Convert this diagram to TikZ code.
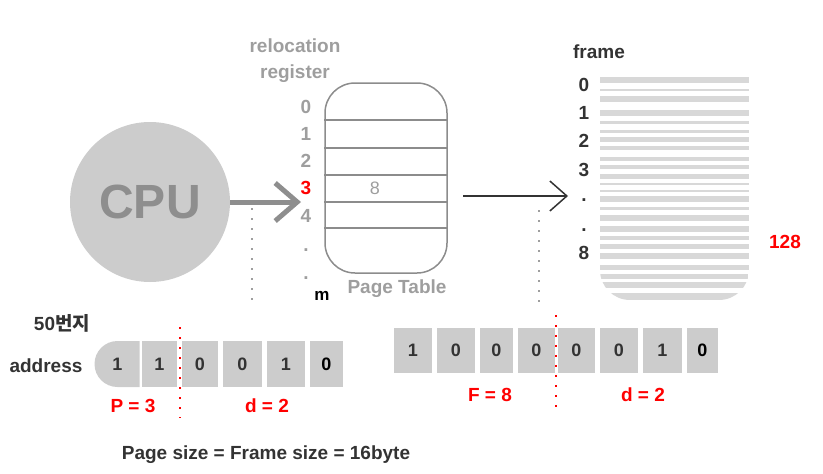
\documentclass[tikz,border=0pt]{standalone}
\usepackage{fontspec}
\setmainfont{Liberation Sans}
\newfontfamily\krfont{Noto Sans CJK KR}
\usetikzlibrary{arrows.meta}
\usetikzlibrary{shapes.misc}

\definecolor{boxgray}{HTML}{CCCCCC}
\definecolor{txtgray}{HTML}{9E9E9E}
\definecolor{cpugray}{HTML}{8E8E8E}
\definecolor{linegray}{HTML}{8C8C8C}
\definecolor{darktxt}{HTML}{333333}
\definecolor{stripegray}{HTML}{D8D8D8}

\tikzset{
  lbl/.style={font=\bfseries\fontsize{19}{22}\selectfont, inner sep=0pt},
  idx/.style={lbl, text=txtgray},
  frm/.style={lbl, text=darktxt},
  redlbl/.style={lbl, text=red},
  bitbox/.style={fill=boxgray, minimum height=46pt, inner sep=0pt,
    font=\bfseries\fontsize{18}{20}\selectfont},
  guide/.style={txtgray, line width=1.5pt, dash pattern=on 1.5pt off 8.5pt},
  cut/.style={red, line width=2pt, dash pattern=on 2pt off 8pt},
}

\begin{document}
\begin{tikzpicture}[x=1pt,y=-1pt]
\useasboundingbox (0,0) rectangle (823,474);

% cpu and page table
\node[circle, fill=boxgray, minimum size=160pt, inner sep=0pt, text=cpugray,
  font=\bfseries\fontsize{48}{50}\selectfont] (cpu) at (150,202) {CPU};
\node[idx] (reloc) at (295,46) {relocation};
\node[idx] (regist) at (295,74) {register};

\node[draw=linegray, line width=1.5pt, rounded corners=30pt,
  minimum width=122pt, minimum height=190pt] (pt) at (386,178) {};
\foreach \y in {120,148,175,202,228}
{
	\draw[linegray, line width=1.5pt] (pt.west |- 0,\y) -- (pt.east |- 0,\y);
}
\foreach \n/\y [count=\i] in {0/107,1/134,2/161,4/216,./250,./278}
{
	\node[idx] (row\i) at (306,\y) {\n};
}
\node[redlbl] (rowp) at (306,188) {3};
\node[lbl, text=black, font=\bfseries\fontsize{17}{20}\selectfont] (rowm) at (322,296) {m};
\node[text=txtgray, font=\fontsize{18}{20}\selectfont, inner sep=0pt] (val) at (375,188) {8};
\node[idx] (ptname) at (397,289) {Page Table};

\coordinate (ptr) at (301,202);
\draw[cpugray, line width=5pt, -{Straight Barb[length=22pt,width=38pt]}] (cpu) -- (ptr);
\coordinate (tout) at (463,196);
\coordinate (tin) at (568,196);
\draw[darktxt, line width=1.5pt, -{Straight Barb[length=17pt,width=30pt]}] (tout) -- (tin);

% frames
\begin{scope}
\clip[rounded corners=30pt] (600,40) rectangle (749,300);
\foreach \y/\w in {80/6,90/2,99/6,113/6,122/3,131/3,139/5,148/4,159/4,167/4,176/5,184/2,191/2,199/6,208/3,218/6,229/6,238/4,246/5,256/6,267/5,276/5,285/6,296/7}
{
	\fill[stripegray] (600,\y-\w/2) rectangle (749,\y+\w/2);
}
\end{scope}
\node[frm] (frame) at (599,52) {frame};
\foreach \n/\y [count=\i] in {0/85,1/113,2/141,3/170,./200,./230,8/253}
{
	\node[frm] (f\i) at (584,\y) {\n};
}
\node[redlbl] (fcount) at (785,242) {128};

\draw[guide] (252,208) -- (252,305);
\draw[guide] (539,210) -- (539,310);

% addresses
\node[frm] (kr) at (62,323) {50{\krfont 번지}};
\node[frm] (addr) at (46,366) {address};
\node[bitbox, rounded rectangle, rounded rectangle right arc=none,
  minimum width=39pt, text=darktxt] (a1) at (117.5,364) {1};
\foreach \n/\x/\w/\c [count=\i from 2] in {1/159.5/35/darktxt,0/200/36/darktxt,0/242.5/39/darktxt,1/286/38/darktxt,0/326.5/33/black}
{
	\node[bitbox, minimum width=\w pt, text=\c] (a\i) at (\x,364) {\n};
}
\foreach \n/\x/\w/\c [count=\i] in {1/413/38/darktxt,0/456/38/darktxt,0/496.5/33/darktxt,0/536.5/37/darktxt,0/576.5/37/darktxt,0/619/38/darktxt,1/662.5/39/darktxt,0/702.5/31/black}
{
	\node[bitbox, minimum width=\w pt, minimum height=45pt, text=\c] (b\i) at (\x,350.5) {\n};
}

\draw[cut] (180,327) -- (180,418);
\draw[cut] (556,315) -- (556,407);
\node[redlbl] (pg) at (133,406) {P = 3};
\node[redlbl] (off1) at (267,406) {d = 2};
\node[redlbl] (fr) at (490,395) {F = 8};
\node[redlbl] (off2) at (643,395) {d = 2};

\node[frm] (size) at (266,455) {Page size = Frame size = 16byte};
\end{tikzpicture}
\end{document}
